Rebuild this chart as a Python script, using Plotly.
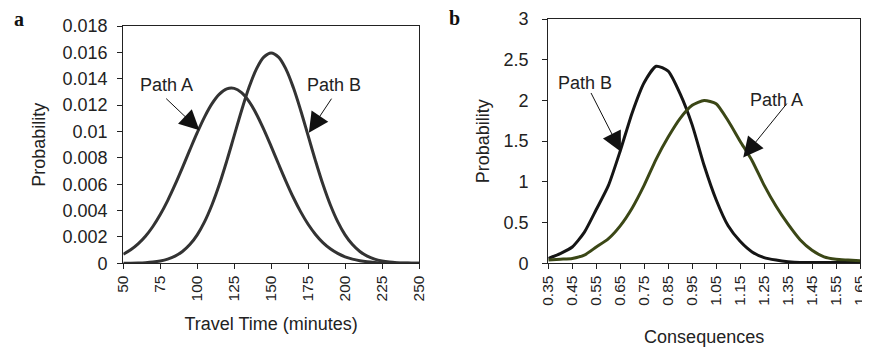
import plotly.graph_objects as go

# ---- Panel a data: travel time distributions ----
time_min = list(range(50, 255, 5))
path_a_time = [0.00069, 0.00102, 0.00147, 0.00205, 0.00279, 0.00370, 0.00476, 0.00596,
               0.00726, 0.00860, 0.00991, 0.01111, 0.01211, 0.01283, 0.01323, 0.01327,
               0.01294, 0.01228, 0.01133, 0.01016, 0.00887, 0.00753, 0.00622, 0.00499,
               0.00390, 0.00296, 0.00219, 0.00157, 0.00110, 0.00075, 0.00049, 0.00032,
               0.00020, 0.00012, 0.00007, 0.00004, 0.00002, 0.00001, 0.00001, 0.0, 0.0]
path_b_time = [0.000005, 0.000012, 0.000025, 0.000049, 0.000095, 0.000177, 0.000317, 0.000543,
               0.000896, 0.00142, 0.00216, 0.00316, 0.00444, 0.00599, 0.00777, 0.00968,
               0.01159, 0.01333, 0.01473, 0.01564, 0.01596, 0.01564, 0.01473, 0.01333,
               0.01159, 0.00968, 0.00777, 0.00599, 0.00444, 0.00316, 0.00216, 0.00142,
               0.000896, 0.000543, 0.000317, 0.000177, 0.000095, 0.000049, 0.000025,
               0.000012, 0.000005]
time_ticks = [50, 75, 100, 125, 150, 175, 200, 225, 250]
prob_ticks_a = [0, 0.002, 0.004, 0.006, 0.008, 0.01, 0.012, 0.014, 0.016, 0.018]
prob_labels_a = ["0", "0.002", "0.004", "0.006", "0.008", "0.01", "0.012", "0.014", "0.016", "0.018"]

# ---- Panel b data: consequence distributions ----
conseq = [0.35, 0.40, 0.45, 0.50, 0.55, 0.60, 0.65, 0.70, 0.75, 0.80, 0.85, 0.90, 0.95,
          1.00, 1.05, 1.10, 1.15, 1.20, 1.25, 1.30, 1.35, 1.40, 1.45, 1.50, 1.55, 1.60, 1.65]
path_b_cons = [0.06, 0.12, 0.20, 0.38, 0.66, 0.95, 1.38, 1.85, 2.22, 2.42, 2.36, 2.08, 1.70,
               1.20, 0.78, 0.46, 0.27, 0.14, 0.07, 0.04, 0.02, 0.01, 0.01, 0.01, 0.01, 0.01, 0.01]
path_a_cons = [0.04, 0.05, 0.06, 0.10, 0.20, 0.30, 0.46, 0.68, 0.96, 1.28, 1.55, 1.78, 1.94,
               2.00, 1.96, 1.75, 1.50, 1.26, 0.96, 0.70, 0.48, 0.29, 0.16, 0.08, 0.05, 0.04, 0.03]
cons_ticks = [0.35, 0.45, 0.55, 0.65, 0.75, 0.85, 0.95, 1.05, 1.15, 1.25, 1.35, 1.45, 1.55, 1.65]
cons_labels = ["0.35", "0.45", "0.55", "0.65", "0.75", "0.85", "0.95", "1.05", "1.15", "1.25",
               "1.35", "1.45", "1.55", "1.65"]
prob_ticks_b = [0, 0.5, 1, 1.5, 2, 2.5, 3]
prob_labels_b = ["0", "0.5", "1", "1.5", "2", "2.5", "3"]

FONT = "Liberation Sans, Arial, sans-serif"
TXT = "#222222"

# page body has an 8px default margin: figure is sized to fill the rest of the window
W, H, OFF = 862, 339, 8


def px_x(p):
    return (p - OFF) / W


def px_y(p):
    return (H - (p - OFF)) / H


fig = go.Figure()
fig.add_trace(go.Scatter(x=time_min, y=path_a_time, mode="lines", name="Path A",
                         line=dict(color="#333333", width=3, shape="spline"), xaxis="x", yaxis="y"))
fig.add_trace(go.Scatter(x=time_min, y=path_b_time, mode="lines", name="Path B",
                         line=dict(color="#333333", width=3, shape="spline"), xaxis="x", yaxis="y"))
fig.add_trace(go.Scatter(x=conseq, y=path_b_cons, mode="lines", name="Path B",
                         line=dict(color="#151515", width=3, shape="spline", smoothing=0.6),
                         xaxis="x2", yaxis="y2"))
fig.add_trace(go.Scatter(x=conseq, y=path_a_cons, mode="lines", name="Path A",
                         line=dict(color="#3b4716", width=3, shape="spline", smoothing=0.6),
                         xaxis="x2", yaxis="y2"))

axis_common = dict(showgrid=False, zeroline=False, showline=True, linecolor="#222222",
                   linewidth=1.2, mirror=True, ticks="outside", ticklen=5, tickcolor="#222222",
                   automargin=False)

fig.update_layout(
    width=W, height=H,
    margin=dict(l=0, r=0, t=0, b=0),
    paper_bgcolor="white", plot_bgcolor="white",
    showlegend=False,
    font=dict(family=FONT, color=TXT, size=18),
    xaxis=dict(domain=[px_x(123.3), px_x(419)], range=[50, 250], tickvals=time_ticks, tickangle=-90,
               tickfont=dict(size=15.5), title=dict(text="Travel Time (minutes)", font=dict(size=18),
               standoff=16), anchor="y", **axis_common),
    yaxis=dict(domain=[px_y(263.3), px_y(26)], range=[0, 0.018], tickvals=prob_ticks_a,
               ticktext=prob_labels_a, tickfont=dict(size=18), ticklabelstandoff=6,
               title=dict(text="Probability", font=dict(size=18), standoff=12), anchor="x",
               **axis_common),
    xaxis2=dict(domain=[px_x(548.3), px_x(860)], range=[0.35, 1.65], tickvals=cons_ticks,
                ticktext=cons_labels, tickangle=-90, tickfont=dict(size=15.5),
                title=dict(text="Consequences", font=dict(size=18), standoff=26), anchor="y2",
                **axis_common),
    yaxis2=dict(domain=[px_y(263.3), px_y(19)], range=[0, 3], tickvals=prob_ticks_b,
                ticktext=prob_labels_b, tickfont=dict(size=18), ticklabelstandoff=10,
                title=dict(text="Probability", font=dict(size=18), standoff=9), anchor="x2",
                **axis_common),
)

arrow = dict(showarrow=True, arrowhead=2, arrowsize=4, arrowwidth=1, arrowcolor="#111111",
             text="")
# panel a arrows
fig.add_annotation(x=101.5, y=0.0101, ax=78, ay=0.0126, xref="x", yref="y", axref="x", ayref="y", **arrow)
fig.add_annotation(x=175.5, y=0.0099, ax=191.5, ay=0.0126, xref="x", yref="y", axref="x", ayref="y", **arrow)
fig.add_annotation(x=79.5, y=0.0135, xref="x", yref="y", text="Path A", showarrow=False,
                   font=dict(size=18, color=TXT))
fig.add_annotation(x=192.5, y=0.0135, xref="x", yref="y", text="Path B", showarrow=False,
                   font=dict(size=18, color=TXT))
# panel b arrows
fig.add_annotation(x=0.653, y=1.37, ax=0.525, ay=2.11, xref="x2", yref="y2", axref="x2", ayref="y2", **arrow)
fig.add_annotation(x=1.163, y=1.30, ax=1.35, ay=1.98, xref="x2", yref="y2", axref="x2", ayref="y2", **arrow)
fig.add_annotation(x=0.505, y=2.22, xref="x2", yref="y2", text="Path B", showarrow=False,
                   font=dict(size=18, color=TXT))
fig.add_annotation(x=1.3, y=2.0, xref="x2", yref="y2", text="Path A", showarrow=False,
                   font=dict(size=18, color=TXT))
# panel letters
fig.add_annotation(x=px_x(19), y=px_y(19), xref="paper", yref="paper", text="<b>a</b>",
                   showarrow=False, xanchor="center", yanchor="middle",
                   font=dict(family="Liberation Serif, Times New Roman, serif", size=20, color="#111111"))
fig.add_annotation(x=px_x(454), y=px_y(18), xref="paper", yref="paper", text="<b>b</b>",
                   showarrow=False, xanchor="center", yanchor="middle",
                   font=dict(family="Liberation Serif, Times New Roman, serif", size=20, color="#111111"))

fig.write_html("out.html")
